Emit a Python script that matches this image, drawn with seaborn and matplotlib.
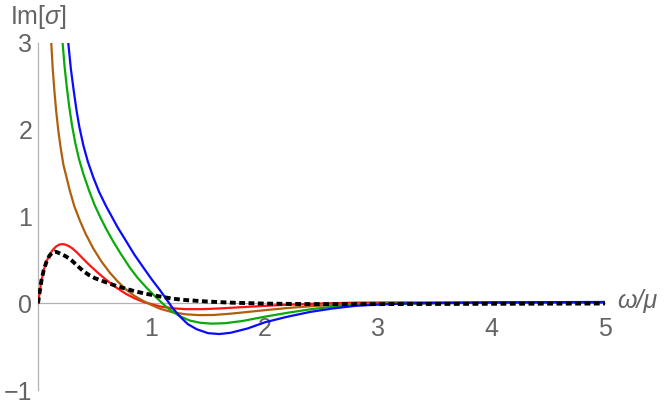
import numpy as np
import pandas as pd
import matplotlib
matplotlib.use("Agg")
import matplotlib.pyplot as plt
from matplotlib.ticker import MultipleLocator
import seaborn as sns

# ---- data ----
red_w = [0, 0.015, 0.03, 0.05, 0.075, 0.10, 0.13, 0.16, 0.19, 0.215, 0.24, 0.27, 0.30, 0.34, 0.40,
         0.45, 0.50, 0.56, 0.635, 0.70, 0.78, 0.85, 0.93, 1.0, 1.08, 1.19, 1.3, 1.45, 1.6, 1.8,
         2.0, 2.2, 2.5, 2.8, 3.2, 3.6, 4.2, 5.0]
red_v = [0, 0.13, 0.26, 0.38, 0.48, 0.555, 0.615, 0.655, 0.677, 0.682, 0.677, 0.66, 0.635, 0.59, 0.51,
         0.445, 0.385, 0.315, 0.235, 0.172, 0.105, 0.058, 0.015, -0.01, -0.038, -0.058, -0.068, -0.068, -0.06, -0.045,
         -0.03, -0.017, -0.003, 0.007, 0.01, 0.009, 0.006, 0.004]

brown_w = [0.117, 0.13, 0.145, 0.16, 0.18, 0.20, 0.225, 0.25, 0.28, 0.32, 0.37, 0.42, 0.488, 0.56,
           0.635, 0.70, 0.78, 0.85, 0.93, 1.0, 1.08, 1.19, 1.3, 1.42, 1.55, 1.7, 1.85, 2.0, 2.2,
           2.4, 2.6, 2.8, 3.1, 4.0, 5.0]
brown_v = [3.0, 2.7, 2.44, 2.22, 1.98, 1.79, 1.59, 1.46, 1.30, 1.12, 0.95, 0.80, 0.63, 0.48,
           0.35, 0.255, 0.155, 0.085, 0.025, -0.02, -0.065, -0.105, -0.127, -0.137, -0.135, -0.12, -0.10, -0.08, -0.055,
           -0.035, -0.02, -0.01, 0.0, 0.005, 0.005]

green_w = [0.217, 0.235, 0.255, 0.275, 0.30, 0.33, 0.36, 0.40, 0.45, 0.50, 0.55, 0.60, 0.664, 0.73,
           0.81, 0.88, 0.96, 1.02, 1.076, 1.13, 1.19, 1.26, 1.34, 1.43, 1.53, 1.65, 1.8, 2.0, 2.2,
           2.4, 2.6, 2.8, 3.0, 3.5, 4.0, 5.0]
green_v = [3.0, 2.72, 2.48, 2.27, 2.05, 1.84, 1.67, 1.49, 1.30, 1.13, 0.99, 0.86, 0.71, 0.57,
           0.41, 0.29, 0.175, 0.095, 0.025, -0.04, -0.10, -0.155, -0.20, -0.225, -0.235, -0.23, -0.205, -0.155, -0.11,
           -0.07, -0.04, -0.02, -0.01, 0.0, 0.005, 0.01]

blue_w = [0.267, 0.29, 0.315, 0.34, 0.365, 0.40, 0.44, 0.488, 0.54, 0.60, 0.65, 0.70, 0.78, 0.85,
          0.93, 1.0, 1.076, 1.13, 1.19, 1.25, 1.32, 1.4, 1.5, 1.6, 1.7, 1.85, 2.0, 2.2, 2.4,
          2.6, 2.8, 3.0, 3.3, 4.0, 5.0]
blue_v = [3.0, 2.7, 2.45, 2.22, 2.03, 1.82, 1.63, 1.45, 1.28, 1.12, 1.0, 0.88, 0.71, 0.56,
          0.41, 0.28, 0.15, 0.05, -0.06, -0.15, -0.24, -0.30, -0.345, -0.355, -0.34, -0.29, -0.22, -0.155, -0.10,
          -0.06, -0.03, -0.015, 0.0, 0.01, 0.015]

black_w = [0, 0.015, 0.03, 0.05, 0.075, 0.10, 0.125, 0.15, 0.175, 0.2, 0.24, 0.27, 0.30, 0.34, 0.40,
           0.45, 0.50, 0.56, 0.635, 0.70, 0.78, 0.85, 0.93, 1.0, 1.08, 1.19, 1.3, 1.49, 1.7, 2.0,
           2.4, 3.0, 4.0, 5.0]
black_v = [0, 0.13, 0.26, 0.38, 0.48, 0.545, 0.585, 0.595, 0.585, 0.57, 0.545, 0.52, 0.49, 0.44, 0.37,
           0.325, 0.29, 0.26, 0.225, 0.195, 0.165, 0.14, 0.115, 0.097, 0.077, 0.052, 0.037, 0.02, 0.007, -0.004,
           -0.01, -0.01, -0.006, -0.003]

x_ticks = [1, 2, 3, 4, 5]
y_ticks = [-1, 0, 1, 2, 3]
x_tick_labels = ["1", "2", "3", "4", "5"]
y_tick_labels = ["\u22121", "0", "1", "2", "3"]

# ---- style ----
sns.set_style("white")
plt.rcParams['font.family'] = ['Liberation Sans', 'DejaVu Sans']
plt.rcParams['mathtext.fontset'] = 'custom'
plt.rcParams['mathtext.it'] = 'Liberation Sans:italic'
plt.rcParams['mathtext.rm'] = 'Liberation Sans'

TXT = '#646464'
AX = '#b3b3b3'
FS = 18

fig = plt.figure(figsize=(6.64, 4.08), dpi=100)
ax = fig.add_axes([38/664, (408-390)/408, 567/664, 347/408])

series = [
    (red_w, red_v, '#ff1414'),
    (brown_w, brown_v, '#b0600c'),
    (green_w, green_v, '#0aaa0a'),
    (blue_w, blue_v, '#0a0aff'),
]
for w, v, c in series:
    sns.lineplot(x=w, y=v, ax=ax, color=c, lw=1.6, sort=False, estimator=None)

ln = sns.lineplot(x=black_w, y=black_v, ax=ax, color='black', lw=2.8, sort=False, estimator=None)
ln.lines[-1].set_dashes((1.5, 0.9))
ln.lines[-1].set_dash_capstyle('butt')

ax.set_xlim(0, 5)
ax.set_ylim(-1, 3)

for s in ['top', 'right']:
    ax.spines[s].set_visible(False)
ax.spines['left'].set_position(('data', 0))
ax.spines['bottom'].set_position(('data', 0))
for s in ['left', 'bottom']:
    ax.spines[s].set_color(AX)
    ax.spines[s].set_linewidth(0.9)
    ax.spines[s].set_zorder(0.5)

ax.set_xticks(x_ticks)
ax.set_xticklabels(x_tick_labels)
ax.set_yticks(y_ticks)
ax.set_yticklabels(y_tick_labels)
ax.xaxis.set_minor_locator(MultipleLocator(0.2))
ax.yaxis.set_minor_locator(MultipleLocator(0.2))
ax.tick_params(which='both', direction='in', color=AX, width=0.8, labelcolor=TXT, labelsize=FS)
ax.tick_params(which='major', length=5)
ax.tick_params(which='minor', length=3)
ax.tick_params(axis='x', which='major', pad=10)
ax.tick_params(axis='y', which='major', pad=4)
ax.set_xlabel('')
ax.set_ylabel('')
ax.patch.set_alpha(0)

fig.text(38/664, 1 - 17/408, r'Im[$\sigma$]', color=TXT, fontsize=FS, ha='center', va='center')
fig.text(617/664, 1 - 301/408, '\u03c9/\u03bc', color=TXT, fontsize=FS, fontstyle='italic',
         ha='left', va='center')

fig.savefig('out.png', dpi=100)
